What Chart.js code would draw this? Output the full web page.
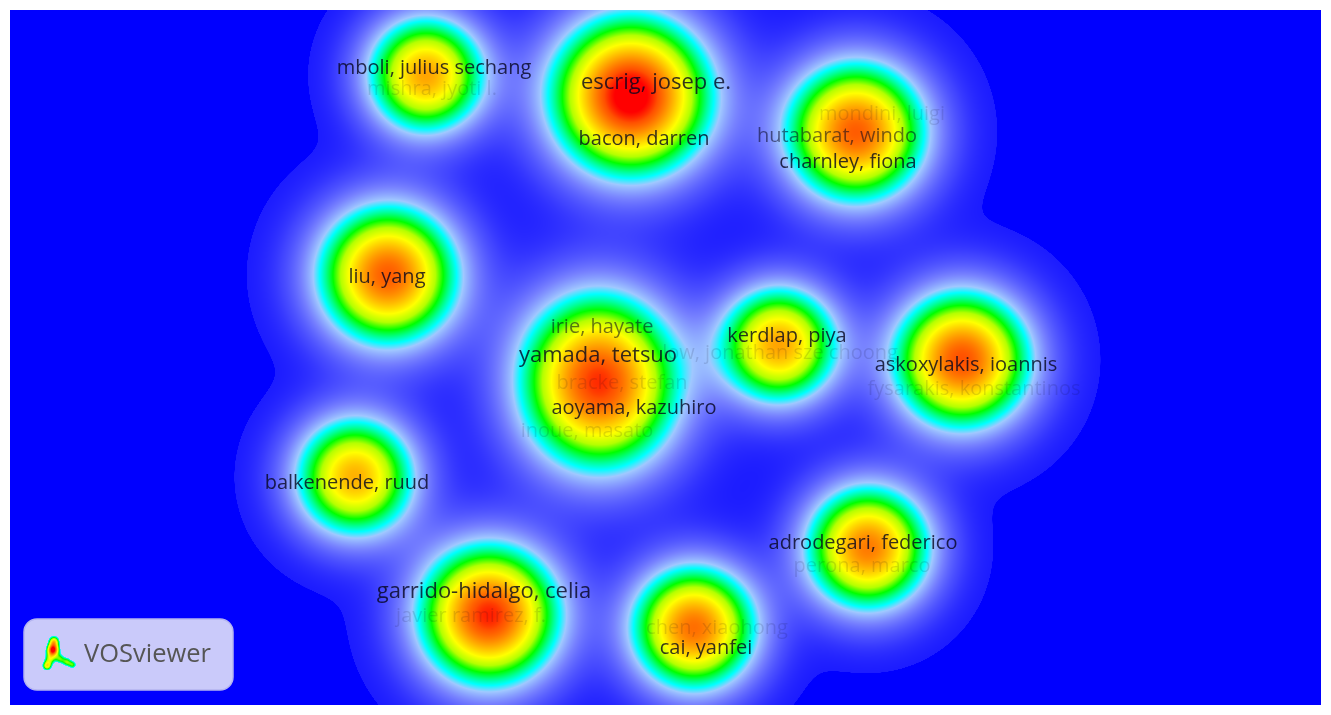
<!DOCTYPE html>
<html>
<head>
<meta charset="utf-8">
<script src="https://cdn.jsdelivr.net/npm/chart.js@4.4.1/dist/chart.umd.min.js"></script>
<style>
    html, body { margin: 0; padding: 0; background: #fff; }
    #wrap { width: 1331px; height: 715px; }
</style>
</head>
<body>
<div id="wrap"><canvas id="densityMap"></canvas></div>
<script>
// author items, in map units (x to the right, y upwards)
const authors = [
    'mboli, julius sechang', 'mishra, jyoti l.',
    'escrig, josep e.', 'bacon, darren',
    'mondini, luigi', 'hutabarat, windo', 'charnley, fiona',
    'liu, yang',
    'irie, hayate', 'yamada, tetsuo', 'bracke, stefan', 'aoyama, kazuhiro', 'inoue, masato',
    'kerdlap, piya', 'low, jonathan sze choong',
    'askoxylakis, ioannis', 'fysarakis, konstantinos',
    'balkenende, ruud',
    'adrodegari, federico', 'perona, marco',
    'garrido-hidalgo, celia', 'javier ramirez, f.',
    'chen, xiaohong', 'cai, yanfei'
];
const authorX = [4.24, 4.22, 6.46, 6.34, 8.72, 8.27, 8.38, 3.77, 5.92, 5.88, 6.12, 6.24, 5.77,
    7.77, 7.70, 9.56, 9.64, 3.37, 8.53, 8.52, 4.74, 4.61, 7.07, 6.96];
const authorY = [6.37, 6.16, 6.22, 5.66, 5.91, 5.69, 5.43, 4.28, 3.78, 3.49, 3.22, 2.97, 2.74,
    3.69, 3.52, 3.40, 3.16, 2.22, 1.62, 1.39, 1.13, 0.89, 0.77, 0.57];
const authorWeight = [8, 8, 12, 8, 8, 8, 8, 8, 8, 12, 8, 8, 8, 8, 8, 8, 8, 8, 8, 8, 12, 8, 8, 8];

// density hot spots
const hotspotX = [4.16, 6.21, 8.46, 3.78, 5.88, 5.90, 7.69, 9.52, 3.45, 8.58, 4.79, 6.84];
const hotspotY = [6.30, 6.09, 5.73, 4.30, 3.48, 3.01, 3.60, 3.45, 2.28, 1.57, 0.90, 0.77];
const hotspotPeak = [0.78, 1.05, 0.90, 0.90, 0.50, 0.56, 0.78, 0.92, 0.76, 0.85, 0.97, 0.87];
const hotspotSpread = [0.39, 0.52, 0.46, 0.46, 0.52, 0.52, 0.39, 0.45, 0.40, 0.41, 0.46, 0.41];

// labels hidden behind others are drawn faded
const fadedLabels = ['mishra, jyoti l.', 'mondini, luigi', 'bracke, stefan', 'inoue, masato',
    'low, jonathan sze choong', 'fysarakis, konstantinos', 'perona, marco',
    'javier ramirez, f.', 'chen, xiaohong'];
const halfLabels = ['hutabarat, windo', 'irie, hayate'];

const colorStops = [
    [0.000, [0, 0, 255]],
    [0.008, [0, 0, 255]],
    [0.0081, [28, 28, 255]],
    [0.06, [65, 68, 255]],
    [0.15, [118, 128, 255]],
    [0.24, [160, 200, 255]],
    [0.30, [0, 255, 255]],
    [0.36, [0, 255, 150]],
    [0.44, [0, 255, 0]],
    [0.53, [180, 255, 0]],
    [0.63, [255, 255, 0]],
    [0.78, [255, 165, 0]],
    [0.92, [255, 80, 0]],
    [1.00, [255, 0, 0]]
];

function densityColor(v) {
    if (v >= 1) return colorStops[colorStops.length - 1][1];
    for (let i = 1; i < colorStops.length; i++) {
        const [t1, c1] = colorStops[i];
        if (v <= t1) {
            const [t0, c0] = colorStops[i - 1];
            const f = (v - t0) / (t1 - t0);
            return [c0[0] + (c1[0] - c0[0]) * f, c0[1] + (c1[1] - c0[1]) * f, c0[2] + (c1[2] - c0[2]) * f];
        }
    }
    return colorStops[colorStops.length - 1][1];
}

function paintDensity(ctx, spots, w, h, transparentBelow) {
    const img = ctx.createImageData(w, h);
    const d = img.data;
    for (let j = 0; j < h; j++) {
        for (let i = 0; i < w; i++) {
            let v = 0;
            for (const s of spots) {
                const dx = i + 0.5 - s.px, dy = j + 0.5 - s.py;
                v += s.peak * Math.exp(-(dx * dx + dy * dy) * s.k);
            }
            if (transparentBelow !== undefined && v < transparentBelow) continue;
            const p = (j * w + i) * 4;
            const c = densityColor(v);
            d[p] = c[0]; d[p + 1] = c[1]; d[p + 2] = c[2]; d[p + 3] = 255;
        }
    }
    return img;
}

const densityLayer = {
    id: 'densityLayer',
    beforeDatasetsDraw(chart) {
        const { ctx, chartArea: a, scales: { x, y } } = chart;
        const dpr = chart.currentDevicePixelRatio || 1;
        const w = Math.round(a.width * dpr), h = Math.round(a.height * dpr);
        const unit = (x.getPixelForValue(1) - x.getPixelForValue(0)) * dpr;
        const spots = hotspotX.map((hx, i) => {
            const s = hotspotSpread[i] * unit;
            return {
                px: (x.getPixelForValue(hx) - a.left) * dpr,
                py: (y.getPixelForValue(hotspotY[i]) - a.top) * dpr,
                peak: hotspotPeak[i],
                k: 1 / (2 * s * s)
            };
        });
        ctx.putImageData(paintDensity(ctx, spots, w, h), Math.round(a.left * dpr), Math.round(a.top * dpr));
    }
};

const authorLabels = {
    id: 'authorLabels',
    afterDatasetsDraw(chart) {
        const { ctx, scales: { x, y } } = chart;
        ctx.save();
        ctx.textAlign = 'center';
        ctx.textBaseline = 'middle';
        authors.forEach((name, i) => {
            const size = 16 + authorWeight[i] * 0.5;
            let alpha = 0.8;
            if (fadedLabels.includes(name)) alpha = 0.13;
            else if (halfLabels.includes(name)) alpha = 0.55;
            ctx.font = size + 'px "Open Sans"';
            ctx.fillStyle = 'rgba(5, 5, 30, ' + alpha + ')';
            ctx.fillText(name, x.getPixelForValue(authorX[i]), y.getPixelForValue(authorY[i]));
        });
        ctx.restore();
    }
};

function roundRect(ctx, x, y, w, h, r) {
    ctx.beginPath();
    ctx.moveTo(x + r, y);
    ctx.arcTo(x + w, y, x + w, y + h, r);
    ctx.arcTo(x + w, y + h, x, y + h, r);
    ctx.arcTo(x, y + h, x, y, r);
    ctx.arcTo(x, y, x + w, y, r);
    ctx.closePath();
}

const vosBadge = {
    id: 'vosBadge',
    afterDraw(chart) {
        const { ctx, chartArea: a } = chart;
        const bx = a.left + 14, by = a.bottom - 86;
        ctx.save();
        roundRect(ctx, bx, by, 209, 71, 13);
        ctx.fillStyle = 'rgb(202, 202, 250)';
        ctx.fill();
        ctx.strokeStyle = 'rgb(180, 180, 240)';
        ctx.lineWidth = 1.5;
        ctx.stroke();
        // little density icon
        const g = s => 1 / (2 * s * s);
        const iconSpots = [
            { px: 14, py: 8, peak: 0.6, k: g(4) },
            { px: 13, py: 17, peak: 1.0, k: g(4.5) },
            { px: 10, py: 26, peak: 0.45, k: g(4) },
            { px: 7, py: 33, peak: 0.6, k: g(3.5) },
            { px: 20, py: 26, peak: 0.4, k: g(3.5) },
            { px: 27, py: 29, peak: 0.45, k: g(3.5) },
            { px: 33, py: 32, peak: 0.4, k: g(3) }
        ];
        const icon = paintDensity(ctx, iconSpots, 40, 42, 0.27);
        const tmp = document.createElement('canvas');
        tmp.width = 40; tmp.height = 42;
        tmp.getContext('2d').putImageData(icon, 0, 0);
        ctx.drawImage(tmp, bx + 16, by + 14);
        ctx.font = '25.5px "Open Sans"';
        ctx.fillStyle = '#555';
        ctx.textBaseline = 'middle';
        ctx.fillText('VOSviewer', bx + 60, by + 36);
        ctx.restore();
    }
};

new Chart(document.getElementById('densityMap'), {
    type: 'scatter',
    data: {
        datasets: [{
            label: 'authors',
            data: authors.map((a, i) => ({ x: authorX[i], y: authorY[i] })),
            pointRadius: 0
        }]
    },
    options: {
        responsive: true,
        maintainAspectRatio: false,
        animation: false,
        layout: { padding: 10 },
        scales: {
            x: { type: 'linear', min: 0, max: 13.11, display: false },
            y: { type: 'linear', min: 0, max: 6.95, display: false }
        },
        plugins: {
            legend: { display: false },
            tooltip: { enabled: false }
        },
        events: []
    },
    plugins: [densityLayer, authorLabels, vosBadge]
});
</script>
</body>
</html>
